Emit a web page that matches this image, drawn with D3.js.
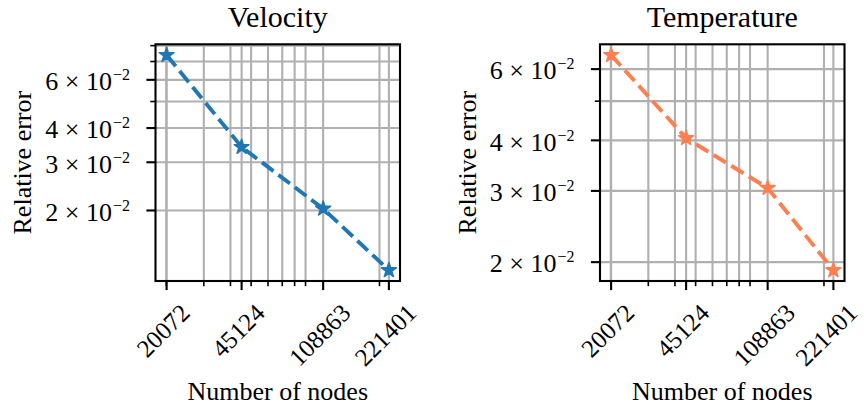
<html>
<script src="https://d3js.org/d3.v7.min.js"></script>
<style>
    body { margin: 0; background: white; }
    text { font-family: "Liberation Serif", "Times New Roman", serif; fill: black; }
</style>
<body>
<svg id="chart" width="864" height="410"></svg>
<script>
// data
var nodes = [20072, 45124, 108863, 221401];
var nodeLabels = ["20072", "45124", "108863", "221401"];
var velocityErr = [0.0739, 0.0341, 0.0203, 0.0121];
var temperatureErr = [0.0650, 0.0405, 0.0305, 0.0191];
var yTickValues = [0.02, 0.03, 0.04, 0.06];
var yTickMantissa = ["2", "3", "4", "6"];
var titles = ["Velocity", "Temperature"];

var svg = d3.select("#chart");
var fontSize = 26;

// minor ticks of a log axis: 2..9 x 10^k inside the domain
function logMinor(lo, hi) {
    var out = [];
    for (var k = Math.floor(Math.log10(lo)); k <= Math.ceil(Math.log10(hi)); k++) {
        for (var m = 2; m <= 9; m++) {
            var v = m * Math.pow(10, k);
            if (v >= lo && v <= hi) out.push(v);
        }
    }
    return out;
}

// log domain with matplotlib-like 5% margins
function padDomain(vals) {
    var lo = Math.log10(d3.min(vals)), hi = Math.log10(d3.max(vals));
    var m = (hi - lo) * 0.05;
    return [Math.pow(10, lo - m), Math.pow(10, hi + m)];
}

function drawPanel(left, values, color, title) {
    var top = 44.3, bottom = 281, right = left + 244.5;
    var x = d3.scaleLog().domain(padDomain(nodes)).range([left, right]);
    var y = d3.scaleLog().domain(padDomain(values)).range([bottom, top]);
    var xMinor = logMinor(x.domain()[0], x.domain()[1]);
    var yMinor = logMinor(y.domain()[0], y.domain()[1]);

    var g = svg.append("g");

    // grid lines (major + minor)
    g.selectAll(".gx").data(nodes.concat(xMinor)).enter().append("line")
        .attr("x1", function(d) { return x(d); }).attr("x2", function(d) { return x(d); })
        .attr("y1", top).attr("y2", bottom)
        .attr("stroke", "#b0b0b0").attr("stroke-width", 2.1);
    g.selectAll(".gy").data(yMinor).enter().append("line")
        .attr("y1", function(d) { return y(d); }).attr("y2", function(d) { return y(d); })
        .attr("x1", left).attr("x2", right)
        .attr("stroke", "#b0b0b0").attr("stroke-width", 2.1);

    // dashed line + star markers
    var line = d3.line()
        .x(function(d, i) { return x(nodes[i]); })
        .y(function(d) { return y(d); });
    g.append("path")
        .datum(values)
        .attr("d", line)
        .attr("fill", "none")
        .attr("stroke", color)
        .attr("stroke-width", 3.9)
        .attr("stroke-dasharray", "14.4,6.2");

    var star = d3.symbol().type(d3.symbolStar).size(68);
    g.selectAll(".pt").data(values).enter().append("path")
        .attr("d", star)
        .attr("transform", function(d, i) { return "translate(" + x(nodes[i]) + "," + y(d) + ")"; })
        .attr("fill", color)
        .attr("stroke", color)
        .attr("stroke-width", 1.5)
        .attr("stroke-linejoin", "round");

    // ticks
    g.selectAll(".tx").data(nodes).enter().append("line")
        .attr("x1", function(d) { return x(d); }).attr("x2", function(d) { return x(d); })
        .attr("y1", bottom).attr("y2", bottom + 9.1)
        .attr("stroke", "black").attr("stroke-width", 2.1);
    g.selectAll(".mx").data(xMinor).enter().append("line")
        .attr("x1", function(d) { return x(d); }).attr("x2", function(d) { return x(d); })
        .attr("y1", bottom).attr("y2", bottom + 5.2)
        .attr("stroke", "black").attr("stroke-width", 1.6);
    g.selectAll(".ty").data(yMinor).enter().append("line")
        .attr("y1", function(d) { return y(d); }).attr("y2", function(d) { return y(d); })
        .attr("x1", left).attr("x2", function(d) { return yTickValues.indexOf(d) >= 0 ? left - 9.1 : left - 5.2; })
        .attr("stroke", "black")
        .attr("stroke-width", function(d) { return yTickValues.indexOf(d) >= 0 ? 2.1 : 1.6; });

    // frame
    g.append("rect")
        .attr("x", left).attr("y", top)
        .attr("width", right - left).attr("height", bottom - top)
        .attr("fill", "none").attr("stroke", "black").attr("stroke-width", 2.1);

    // y tick labels  m x 10^-2
    yTickValues.forEach(function(v, i) {
        var t = g.append("text")
            .attr("x", left - 25.5)
            .attr("y", y(v) + 10.3)
            .attr("text-anchor", "end")
            .style("font-size", fontSize + "px");
        t.append("tspan").text(yTickMantissa[i] + " \u00d7 10");
        t.append("tspan").attr("dy", -10).attr("dx", 1)
            .style("font-size", "16px").text("\u22122");
    });

    // x tick labels, rotated 45 degrees (kept inside the page)
    nodes.forEach(function(v, i) {
        var t = g.append("text")
            .attr("text-anchor", "middle")
            .attr("dy", "0.34em")
            .style("font-size", "25px")
            .text(nodeLabels[i]);
        var L = t.node().getComputedTextLength();
        var cy = 302.5 + (L + 17) / (2 * Math.SQRT2);
        var half = (L + 29) / (2 * Math.SQRT2);
        var cx = Math.min(x(v) - 3.5, 863 - half);
        t.attr("transform", "translate(" + cx + "," + cy + ") rotate(-45)");
    });

    // labels and title
    g.append("text")
        .attr("x", (left + right) / 2).attr("y", 400)
        .attr("text-anchor", "middle")
        .style("font-size", fontSize + "px")
        .text("Number of nodes");
    g.append("text")
        .attr("transform", "translate(" + (left - 124.5) + "," + ((top + bottom) / 2) + ") rotate(-90)")
        .attr("text-anchor", "middle")
        .style("font-size", fontSize + "px")
        .text("Relative error");
    g.append("text")
        .attr("x", (left + right) / 2).attr("y", 27)
        .attr("text-anchor", "middle")
        .style("font-size", "30px")
        .text(title);
}

drawPanel(155.5, velocityErr, "#1f77b4", titles[0]);
drawPanel(600, temperatureErr, "#ff7f50", titles[1]);
</script>
</body>
</html>
